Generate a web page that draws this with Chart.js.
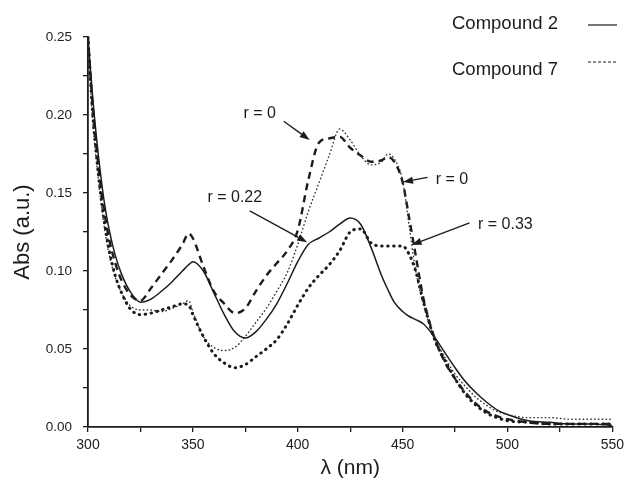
<!DOCTYPE html>
<html><head><meta charset="utf-8">
<script src="https://cdn.jsdelivr.net/npm/chart.js@4.4.0/dist/chart.umd.min.js"></script>
<style>html,body{margin:0;padding:0;background:#fff;}#wrap{width:629px;height:481px;position:relative;}</style>
</head><body><div id="wrap"><canvas id="c"></canvas></div>
<script>
const wavelengths = [300,302,304,306,308,310,313,316,320,325,330,335,340,345,348,350,355,360,365,370,375,380,385,390,395,400,405,410,415,420,425,430,435,440,443,446,450,453,456,460,465,470,475,480,485,490,495,500,510,520,530,540,550];

const compound2_r022 = [0.250,0.215,0.186,0.162,0.142,0.127,0.110,0.098,0.087,0.080,0.082,0.087,0.093,0.100,0.104,0.106,0.100,0.086,0.072,0.061,0.057,0.061,0.069,0.079,0.092,0.106,0.117,0.121,0.125,0.130,0.134,0.130,0.115,0.097,0.088,0.080,0.074,0.071,0.069,0.066,0.058,0.048,0.038,0.029,0.022,0.016,0.011,0.008,0.004,0.003,0.002,0.002,0.001];

const compound2_r0 = [0.250,0.210,0.180,0.155,0.136,0.121,0.105,0.094,0.085,0.081,0.089,0.098,0.107,0.117,0.124,0.121,0.103,0.087,0.079,0.073,0.076,0.087,0.097,0.105,0.113,0.126,0.158,0.182,0.185,0.186,0.179,0.174,0.170,0.171,0.173,0.170,0.157,0.135,0.112,0.082,0.058,0.042,0.031,0.022,0.015,0.010,0.007,0.005,0.003,0.002,0.002,0.002,0.002];

const compound7_r0 = [0.250,0.200,0.170,0.146,0.126,0.111,0.096,0.086,0.078,0.075,0.075,0.074,0.076,0.079,0.081,0.074,0.058,0.051,0.049,0.051,0.058,0.067,0.076,0.087,0.099,0.117,0.138,0.156,0.174,0.191,0.184,0.174,0.168,0.170,0.175,0.172,0.158,0.130,0.102,0.078,0.058,0.045,0.034,0.026,0.019,0.014,0.010,0.008,0.006,0.006,0.005,0.005,0.005];

const compound7_r033 = [0.250,0.205,0.175,0.150,0.130,0.114,0.097,0.086,0.076,0.072,0.073,0.075,0.077,0.079,0.078,0.072,0.058,0.047,0.041,0.038,0.040,0.045,0.050,0.056,0.066,0.078,0.089,0.097,0.104,0.113,0.125,0.127,0.118,0.116,0.116,0.116,0.116,0.111,0.101,0.080,0.057,0.043,0.031,0.021,0.014,0.009,0.006,0.004,0.003,0.002,0.002,0.002,0.002];

const xTickLabels = [300,350,400,450,500,550];
const yTickLabels = ['0.00','0.05','0.10','0.15','0.20','0.25'];
const legendLabels = ['Compound 2','Compound 7'];
const annotationLabels = ['r = 0','r = 0.22','r = 0','r = 0.33'];

// annotation placement (data coordinates): text centre, arrow start, arrow tip
const annotationPlacement = [
  {text:[381.9,0.2006], from:[393.3,0.196], to:[405.7,0.184]},
  {text:[370.0,0.1468], from:[377.1,0.1385], to:[404.5,0.1185]},
  {text:[473.5,0.1583], from:[461.9,0.1600], to:[450.2,0.1570]},
  {text:[499.0,0.1300], from:[481.9,0.1308], to:[454.3,0.1167]}
];

const ink = '#1c1c1c';
const FONT = '"Liberation Sans", Arial, Helvetica, sans-serif';
Chart.defaults.font.family = FONT;
Chart.defaults.color = ink;

const pts = arr => wavelengths.map((w,i)=>({x:w, y:arr[i]}));

const overlay = {
  id:'overlay',
  afterDraw(chart){
    const {ctx, scales:{x, y}} = chart;
    ctx.save();
    ctx.fillStyle = ink; ctx.strokeStyle = ink;
    ctx.setLineDash([]);
    ctx.font = '16px ' + FONT;
    ctx.textAlign = 'center'; ctx.textBaseline = 'middle';
    annotationPlacement.forEach((a, i) => {
      const tx = x.getPixelForValue(a.text[0]), ty = y.getPixelForValue(a.text[1]);
      ctx.fillText(annotationLabels[i], tx, ty);
      const x0 = x.getPixelForValue(a.from[0]), y0 = y.getPixelForValue(a.from[1]);
      const x1 = x.getPixelForValue(a.to[0]), y1 = y.getPixelForValue(a.to[1]);
      const ang = Math.atan2(y1 - y0, x1 - x0), L = 10, W = 3.5;
      const c = Math.cos(ang), s = Math.sin(ang);
      const bx = x1 - L * c, by = y1 - L * s;
      ctx.lineWidth = 1.3;
      ctx.beginPath(); ctx.moveTo(x0, y0); ctx.lineTo(bx, by); ctx.stroke();
      ctx.beginPath(); ctx.moveTo(x1, y1);
      ctx.lineTo(bx - W * s, by + W * c); ctx.lineTo(bx + W * s, by - W * c);
      ctx.closePath(); ctx.fill();
    });
    // legend
    const W0 = chart.width;
    ctx.font = '18.5px ' + FONT;
    ctx.textAlign = 'left';
    const textX = W0 - 177, lineX0 = W0 - 41, lineX1 = W0 - 12;
    const rows = [{ty:24, ly:25, dash:[]}, {ty:70, ly:62, dash:[3,2]}];
    rows.forEach((r, i) => {
      ctx.fillText(legendLabels[i], textX, r.ty);
      ctx.setLineDash(r.dash);
      ctx.lineWidth = 1.2;
      ctx.beginPath(); ctx.moveTo(lineX0, r.ly); ctx.lineTo(lineX1, r.ly); ctx.stroke();
    });
    ctx.restore();
  }
};

new Chart(document.getElementById('c'), {
  type: 'line',
  data: {
    datasets: [
      {label:'Compound 7 (r = 0.33)', data: pts(compound7_r033), borderColor: ink, borderWidth: 3, borderDash:[0.5,5.5], borderCapStyle:'round'},
      {label:'Compound 7 (r = 0)', data: pts(compound7_r0), borderColor: '#333', borderWidth: 1.4, borderDash:[0.5,3.3], borderCapStyle:'round'},
      {label:'Compound 2 (r = 0)', data: pts(compound2_r0), borderColor: ink, borderWidth: 2.4, borderDash:[7,5], borderCapStyle:'butt'},
      {label:'Compound 2 (r = 0.22)', data: pts(compound2_r022), borderColor: ink, borderWidth: 1.5}
    ]
  },
  options: {
    responsive: true,
    maintainAspectRatio: false,
    animation: false,
    elements: { point: { radius: 0 }, line: { cubicInterpolationMode: 'monotone', fill: false } },
    layout: { padding: { top: 37, right: 16, left: 0, bottom: 0 } },
    plugins: { legend: { display: false }, tooltip: { enabled: false } },
    scales: {
      x: {
        type: 'linear', min: 300, max: 550,
        afterFit: s => { s.height = 54; },
        ticks: {
          stepSize: 25, autoSkip: false, maxRotation: 0, padding: 5,
          font: { size: 14 }, color: ink,
          callback: v => xTickLabels.includes(v) ? String(v) : ''
        },
        grid: { drawOnChartArea: false, drawTicks: true, tickLength: 5, color: ink, lineWidth: 1.3 },
        border: { display: true, color: ink, width: 1.8 },
        title: { display: true, text: 'λ (nm)', font: { size: 21 }, color: ink, padding: { top: 0, bottom: 0 } }
      },
      y: {
        type: 'linear', min: 0, max: 0.25,
        afterFit: s => { s.width = 88; },
        ticks: {
          stepSize: 0.025, autoSkip: false, padding: 11,
          font: { size: 13.5 }, color: ink,
          callback: v => {
            const k = Math.round(v * 1000);
            return k % 50 === 0 ? yTickLabels[k / 50] : '';
          }
        },
        grid: { drawOnChartArea: false, drawTicks: true, tickLength: 5, color: ink, lineWidth: 1.3 },
        border: { display: true, color: ink, width: 1.8 },
        title: { display: true, text: 'Abs (a.u.)', font: { size: 22 }, color: ink, padding: { top: 10, bottom: 0 } }
      }
    }
  },
  plugins: [overlay]
});
</script>
</body></html>
